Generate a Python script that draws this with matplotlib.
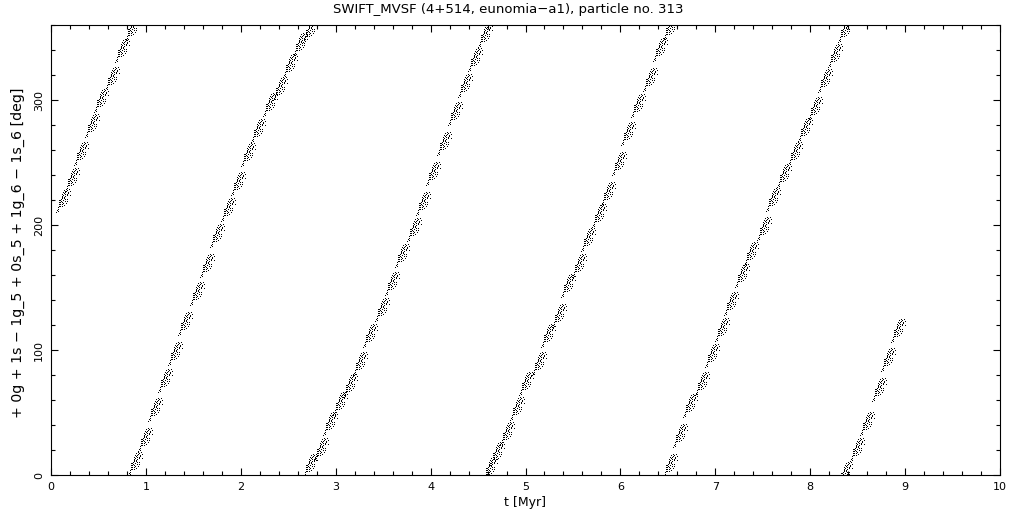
import numpy as np
import matplotlib
matplotlib.use('Agg')
from matplotlib import pyplot as plt
from matplotlib.path import Path
from matplotlib.ticker import MultipleLocator

# centres of the dot clusters (t in Myr, angle in deg)
t_b1 = [0.13, 0.22, 0.32, 0.43, 0.53, 0.64, 0.75, 0.85]
a_b1 = [219, 236, 257, 279, 299, 317, 339, 356]

t_b2 = [0.89, 0.99, 1.10, 1.20, 1.31, 1.41, 1.54, 1.64, 1.75,
        1.87, 1.97, 2.08, 2.18, 2.31, 2.41, 2.52, 2.62, 2.73]
a_b2 = [9, 28, 52, 75, 97, 121, 145, 167, 191,
        212, 233, 256, 275, 296, 309, 327, 344, 355]

t_b3 = [2.73, 2.84, 2.94, 3.05, 3.15, 3.26, 3.36, 3.49, 3.59,
        3.70, 3.82, 3.92, 4.03, 4.14, 4.26, 4.36, 4.47, 4.57]
a_b3 = [7, 20, 41, 57, 71, 89, 111, 132, 153,
        175, 196, 217, 241, 265, 289, 311, 332, 351]

t_b4 = [4.63, 4.70, 4.80, 4.91, 5.01, 5.14, 5.24, 5.35, 5.45, 5.56,
        5.66, 5.77, 5.87, 5.98, 6.08, 6.19, 6.31, 6.42, 6.52]
a_b4 = [5, 17, 33, 53, 73, 89, 111, 127, 151, 167,
        188, 207, 225, 249, 273, 295, 316, 340, 357]

t_b5 = [6.52, 6.63, 6.73, 6.86, 6.96, 7.07, 7.17, 7.28, 7.38,
        7.51, 7.61, 7.72, 7.84, 7.95, 8.05, 8.16, 8.26, 8.37]
a_b5 = [7, 31, 55, 73, 95, 116, 137, 159, 177,
        197, 220, 239, 257, 276, 293, 315, 335, 355]

t_b6 = [8.37, 8.49, 8.60, 8.72, 8.82, 8.93]
a_b6 = [1, 20, 41, 68, 92, 115]

title = 'SWIFT_MVSF (4+514, eunomia\u2212a1), particle no. 313'
xlabel = 't [Myr]'
ylabel = '+ 0g + 1s \u2212 1g_5 + 0s_5 + 1g_6 \u2212 1s_6 [deg]'

# one cluster of single-pixel dots, used as the marker
blob = [
    "..........#..#.",
    "........#..#...",
    "..........#...#",
    ".......#.#..#..",
    "........#...#..",
    "......#..#.#...",
    ".......#...#..#",
    "......#..#.....",
    ".....#..#..#...",
    "......#.#......",
    ".....#...#.#...",
    "....#..#.......",
    ".....#...#.#...",
    "....#.#........",
    "...#...#..#....",
    "....#.#........",
    "...#....#......",
    "....#.#........",
    "..#............",
    "...#...........",
    "..#............",
    ".#.............",
    "..#............",
    "#..............",
    "...............",
]
ny, nx = len(blob), len(blob[0])
verts, codes = [], []
for r, row in enumerate(blob):
    for c, ch in enumerate(row):
        if ch == '#':
            x = c - (nx - 1) / 2
            y = (ny - 1) / 2 - r
            verts += [(x - .5, y - .5), (x + .5, y - .5), (x + .5, y + .5),
                      (x - .5, y + .5), (x - .5, y - .5)]
            codes += [Path.MOVETO, Path.LINETO, Path.LINETO, Path.LINETO, Path.CLOSEPOLY]
# a hidden corner keeps the marker scale at one unit per pixel
verts += [(-nx / 2, -ny / 2), (nx / 2, ny / 2)]
codes += [Path.MOVETO, Path.MOVETO]
blob_path = Path(verts, codes)

t_all = np.concatenate([t_b1, t_b2, t_b3, t_b4, t_b5, t_b6])
a_all = np.concatenate([a_b1, a_b2, a_b3, a_b4, a_b5, a_b6])

fig = plt.figure(figsize=(10.21, 5.11), dpi=100)
ax = fig.add_axes([51 / 1021, 36 / 511, 949 / 1021, 450 / 511])

marker_pt = ny * 72 / 100
ax.scatter(t_all, a_all, s=marker_pt ** 2, marker=blob_path, c='k',
           linewidths=0, antialiased=False)

ax.set_xlim(0, 10)
ax.set_ylim(0, 360)
ax.xaxis.set_major_locator(MultipleLocator(1))
ax.xaxis.set_minor_locator(MultipleLocator(0.2))
ax.yaxis.set_major_locator(MultipleLocator(100))
ax.yaxis.set_minor_locator(MultipleLocator(20))
ax.tick_params(which='both', direction='in', top=True, right=True, width=0.8)
ax.tick_params(which='major', length=5.2)
ax.tick_params(which='minor', length=3)
ax.tick_params(axis='both', labelsize=8, pad=5)
for lab in ax.get_yticklabels():
    lab.set_rotation(90)
    lab.set_va('center')
for sp in ax.spines.values():
    sp.set_linewidth(0.8)

fig.text(18 / 1021, 1 - 253 / 511, ylabel, rotation=90, ha='center', va='center',
         fontsize=10.2)
fig.text(525 / 1021, 2 / 511, xlabel, ha='center', va='bottom', fontsize=9)
fig.text(508 / 1021, 1 - 10 / 511, title, ha='center', va='center', fontsize=9.5)

fig.savefig('out.png', dpi=100)
